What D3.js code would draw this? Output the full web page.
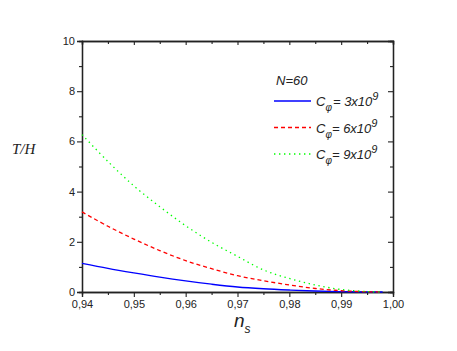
<!DOCTYPE html>
<html>
<head>
<meta charset="utf-8">
<script src="https://cdn.jsdelivr.net/npm/d3@7"></script>
<style>
  body { margin: 0; background: #fff; }
  svg { display: block; }
  .tick text { font-family: Arial, "Liberation Sans", sans-serif; font-size: 11px; fill: #222; }
</style>
</head>
<body>
<svg id="chart"></svg>
<script>
// Chart size and plot box
var w = 457,
    h = 351,
    margin = { top: 41, right: 64, bottom: 59, left: 82 };

// Data
var ns = [0.94, 0.945, 0.95, 0.955, 0.96, 0.965, 0.97, 0.975, 0.98, 0.985, 0.99, 0.995, 0.998];
var blueVals  = [1.14, 0.94, 0.76, 0.59, 0.44, 0.31, 0.20, 0.13, 0.08, 0.04, 0.015, 0.003, 0];
var redVals   = [3.19, 2.62, 2.11, 1.65, 1.25, 0.93, 0.65, 0.45, 0.28, 0.14, 0.05, 0.01, 0];
var greenVals = [6.27, 5.20, 4.23, 3.40, 2.64, 1.98, 1.42, 0.88, 0.54, 0.28, 0.10, 0.02, 0];
var xTicks = [0.94, 0.95, 0.96, 0.97, 0.98, 0.99, 1.00];
var yTicks = [0, 2, 4, 6, 8, 10];
var series = [
    { vals: blueVals,  color: "#0000ff", dash: null,      label: "= 3x10" },
    { vals: redVals,   color: "#ff0000", dash: "4,3",     label: "= 6x10" },
    { vals: greenVals, color: "#00ff00", dash: "1.4,3.6", label: "= 9x10" }
];

var svg = d3.select("#chart").attr("width", w).attr("height", h);

var x = d3.scaleLinear().domain([0.94, 1.0]).range([margin.left, w - margin.right]);
var y = d3.scaleLinear().domain([0, 10]).range([h - margin.bottom, margin.top]);

var fmt = function (d) { return d3.format(".2f")(d).replace(".", ","); };
var minorX = d3.range(0.945, 1.0, 0.01);
var minorY = d3.range(1, 10, 2);

// Major and minor ticks on all four sides
function drawAxes() {
    svg.append("g").attr("transform", "translate(0," + y(0) + ")")
        .call(d3.axisBottom(x).tickValues(xTicks).tickFormat(fmt).tickSize(5).tickPadding(3));
    svg.append("g").attr("transform", "translate(0," + y(0) + ")")
        .call(d3.axisBottom(x).tickValues(minorX).tickFormat("").tickSize(3));
    svg.append("g").attr("transform", "translate(" + x(0.94) + ",0)")
        .call(d3.axisLeft(y).tickValues(yTicks).tickFormat(d3.format("d")).tickSize(5).tickPadding(2));
    svg.append("g").attr("transform", "translate(" + x(0.94) + ",0)")
        .call(d3.axisLeft(y).tickValues(minorY).tickFormat("").tickSize(3));
    svg.append("g").attr("transform", "translate(0," + y(10) + ")")
        .call(d3.axisTop(x).tickValues(xTicks).tickFormat("").tickSize(-4));
    svg.append("g").attr("transform", "translate(0," + y(10) + ")")
        .call(d3.axisTop(x).tickValues(minorX).tickFormat("").tickSize(-3));
    svg.append("g").attr("transform", "translate(" + x(1.0) + ",0)")
        .call(d3.axisRight(y).tickValues(yTicks).tickFormat("").tickSize(-5));
    svg.append("g").attr("transform", "translate(" + x(1.0) + ",0)")
        .call(d3.axisRight(y).tickValues(minorY).tickFormat("").tickSize(-3));

    svg.selectAll(".domain").attr("stroke", "#222").attr("stroke-width", 1.3);
    svg.selectAll(".tick line").attr("stroke", "#222").attr("stroke-width", 1.1);
}
drawAxes();

// Curves
var line = d3.line()
    .x(function (d) { return x(d[0]); })
    .y(function (d) { return y(d[1]); })
    .curve(d3.curveCatmullRom);

series.forEach(function (s) {
    svg.append("path")
        .datum(ns.map(function (n, i) { return [n, s.vals[i]]; }))
        .attr("fill", "none")
        .attr("stroke", s.color)
        .attr("stroke-width", 1.3)
        .attr("stroke-dasharray", s.dash)
        .attr("d", line);
});

// Legend
var lg = svg.append("g").attr("font-family", "Arial, 'Liberation Sans', sans-serif")
    .attr("font-style", "italic").attr("fill", "#222");
lg.append("text").attr("x", 276).attr("y", 85).attr("font-size", 13).text("N=60");
series.forEach(function (s, i) {
    var ly = 101 + i * 26.5;
    lg.append("line").attr("x1", 274).attr("x2", 311).attr("y1", ly).attr("y2", ly)
        .attr("stroke", s.color).attr("stroke-width", 1.3).attr("stroke-dasharray", s.dash);
    var t = lg.append("text").attr("x", 316).attr("y", ly + 5).attr("font-size", 13);
    t.append("tspan").text("C");
    t.append("tspan").attr("font-size", 10).attr("dy", 5).text("\u03c6");
    t.append("tspan").attr("dy", -5).attr("dx", i == 0 ? 1 : 0).text(s.label);
    t.append("tspan").attr("font-size", 11).attr("dy", -6).text("9");
});

// Axis titles
svg.append("text").attr("x", 12).attr("y", 154)
    .attr("font-family", "'Liberation Serif', 'DejaVu Serif', serif")
    .attr("font-style", "italic").attr("font-size", 15).attr("fill", "#222").text("T/H");

var xt = svg.append("text").attr("x", 234).attr("y", 327)
    .attr("font-family", "Arial, 'Liberation Sans', sans-serif")
    .attr("font-style", "italic").attr("font-size", 19).attr("fill", "#222");
xt.append("tspan").text("n");
xt.append("tspan").attr("font-size", 12).attr("dy", 6).text("s");
</script>
</body>
</html>
